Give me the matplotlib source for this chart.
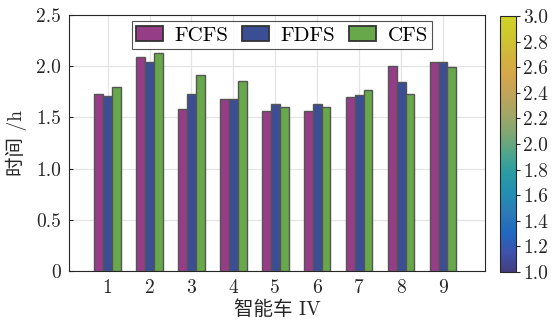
import numpy as np
import matplotlib
matplotlib.use("Agg")
import matplotlib.pyplot as plt
from matplotlib.colors import LinearSegmentedColormap, Normalize
from matplotlib.cm import ScalarMappable

plt.rcParams['font.family'] = ['cmr10', 'Noto Sans CJK SC', 'DejaVu Sans']
plt.rcParams['axes.formatter.use_mathtext'] = True

# completion time of each IV under the three scheduling schemes
vehicles = [1, 2, 3, 4, 5, 6, 7, 8, 9]
fcfs = [1.73, 2.09, 1.58, 1.68, 1.565, 1.565, 1.70, 2.00, 2.04]
fdfs = [1.71, 2.04, 1.73, 1.68, 1.63, 1.63, 1.72, 1.85, 2.04]
cfs = [1.80, 2.13, 1.91, 1.855, 1.605, 1.605, 1.77, 1.725, 1.995]
series_names = ["FCFS", "FDFS", "CFS"]
y_ticks = [0, 0.5, 1.0, 1.5, 2.0, 2.5]
y_ticklabels = ["0", "0.5", "1.0", "1.5", "2.0", "2.5"]
cbar_ticks = [1.0, 1.2, 1.4, 1.6, 1.8, 2.0, 2.2, 2.4, 2.6, 2.8, 3.0]

colors = ["#953d87", "#3b4e94", "#67a84a"]

# parula-like colormap, toned down towards grey
parula_pts = np.array([
    (0.2081, 0.1663, 0.5292), (0.1707, 0.2919, 0.7792), (0.0059, 0.4086, 0.8828),
    (0.0779, 0.5040, 0.8384), (0.0265, 0.6137, 0.8135), (0.0590, 0.6838, 0.7254),
    (0.2586, 0.7317, 0.5954), (0.5300, 0.7491, 0.4661), (0.7184, 0.7411, 0.3905),
    (0.8824, 0.7274, 0.3217), (0.9938, 0.7455, 0.2403), (0.9789, 0.8271, 0.1633),
    (0.9598, 0.9218, 0.0948), (0.9763, 0.9831, 0.0538),
])
parula_pts = 0.72 * parula_pts + 0.28 * 0.42
parula = LinearSegmentedColormap.from_list("parula", parula_pts)

fig = plt.figure(figsize=(5.57, 3.24), dpi=100)
ax = fig.add_axes([0.1239, 0.1636, 0.7468, 0.7901])
cax = fig.add_axes([0.8977, 0.1605, 0.0287, 0.7901])

x = np.array(vehicles, dtype=float)
w = 0.21
for k, vals in enumerate([fcfs, fdfs, cfs]):
    ax.bar(x + (k - 1) * w, vals, width=w, color=colors[k], edgecolor="#555555",
           linewidth=1.0, label=series_names[k], zorder=3)

ax.set_xlim(0.08, 10.0)
ax.set_ylim(0, 2.5)
ax.set_xticks(vehicles)
ax.set_xticklabels([str(v) for v in vehicles])
ax.set_yticks(y_ticks)
ax.set_yticklabels(y_ticklabels)
ax.grid(True, color="#e4e4e4", linewidth=0.9, zorder=0)
ax.set_axisbelow(True)
ax.tick_params(direction="in", length=3, labelsize=14, colors="#262626", pad=6)
ax.tick_params(axis="x", length=0)
for s in ax.spines.values():
    s.set_color("#262626")
    s.set_linewidth(0.8)

ax.set_ylabel("时间 /h", fontsize=14, color="#262626", labelpad=6)
ax.set_xlabel("智能车 IV", fontsize=14, color="#262626", labelpad=2)

leg = ax.legend(loc="upper center", bbox_to_anchor=(0.512, 0.975), ncol=3,
                fontsize=15, frameon=True, fancybox=False, edgecolor="#262626",
                handlelength=1.3, handleheight=0.7, handletextpad=0.55,
                columnspacing=0.65, borderpad=0.22, borderaxespad=0)
leg.get_frame().set_linewidth(0.8)
for h in leg.legend_handles:
    h.set_edgecolor("#333333")
    h.set_linewidth(1.3)

sm = ScalarMappable(norm=Normalize(1.0, 3.0), cmap=parula)
cb = fig.colorbar(sm, cax=cax, ticks=cbar_ticks)
cb.ax.set_yticklabels([f"{t:.1f}" for t in cbar_ticks])
cb.ax.tick_params(labelsize=14, direction="out", length=3, colors="#262626", pad=2)
cb.outline.set_edgecolor("#262626")
cb.outline.set_linewidth(0.8)

fig.savefig("out.png", dpi=100)
